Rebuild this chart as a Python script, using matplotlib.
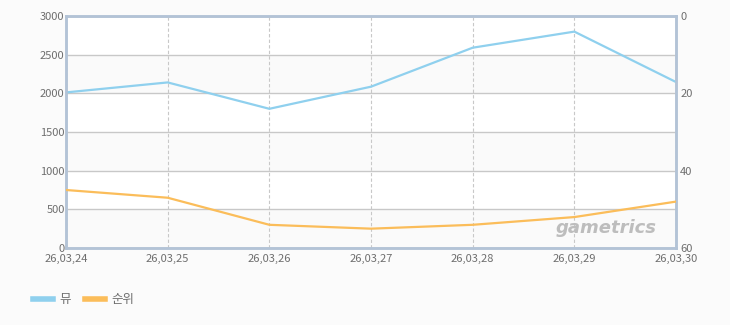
import matplotlib
matplotlib.use('Agg')
import matplotlib.pyplot as plt

plt.rcParams['font.family'] = ['Noto Sans CJK KR', 'DejaVu Sans']

dates = ['26,03,24', '26,03,25', '26,03,26', '26,03,27', '26,03,28', '26,03,29', '26,03,30']
usage = [2012, 2141, 1800, 2086, 2590, 2798, 2146]
rank = [45, 47, 54, 55, 54, 52, 48]
labels = ['뮤', '순위']

blue = '#8fd0ee'
orange = '#fbbd5a'
spine_col = '#b3c3d6'
text_col = '#6e6e6e'

fig = plt.figure(figsize=(7.3, 3.25), dpi=100, facecolor='#fbfbfb')
ax = fig.add_axes([66 / 730, 1 - 248 / 325, 610 / 730, 232 / 325])
ax.set_facecolor('white')

x = list(range(len(dates)))

# alternating bands
for i, lo in enumerate(range(0, 3000, 500)):
    if i % 2 == 0:
        ax.axhspan(lo, lo + 500, color='#fafafa', zorder=0, lw=0)

ax.set_xlim(0, len(dates) - 1)
ax.set_ylim(0, 3000)
ax.set_yticks(range(0, 3001, 500))
ax.set_xticks(x)
ax.set_xticklabels(dates)
ax.grid(axis='y', color='#c8c8c8', lw=1, zorder=1)
ax.grid(axis='x', color='#c8c8c8', lw=0.8, ls=(0, (3, 2)), zorder=1)

l1, = ax.plot(x, usage, color=blue, lw=1.6, zorder=3, label=labels[0])

ax2 = ax.twinx()
ax2.set_ylim(60, 0)
ax2.set_yticks([0, 20, 40, 60])
l2, = ax2.plot(x, rank, color=orange, lw=1.6, zorder=3, label=labels[1])

for a in (ax, ax2):
    for s in a.spines.values():
        s.set_color(spine_col)
        s.set_linewidth(1.8)
    a.tick_params(length=0, labelsize=8, colors=text_col)
ax.tick_params(axis='y', pad=1)
ax.tick_params(axis='x', pad=4)
ax2.tick_params(axis='y', pad=3)

# watermark
ax.text(0.968, 0.085, 'gametrics', transform=ax.transAxes, ha='right', va='center',
        fontsize=13, fontweight='bold', style='italic', color='#bdbdbd',
        family='DejaVu Sans', zorder=2)

fig.legend(handles=[l1, l2], labels=labels, loc='center left', ncol=2,
           bbox_to_anchor=(22 / 730, 1 - 300 / 325), frameon=False,
           fontsize=9, labelcolor=text_col, handlelength=1.6,
           handletextpad=0.5, columnspacing=1.1)
for h in fig.legends[0].legend_handles:
    h.set_linewidth(4)

fig.savefig('out.png', dpi=100, facecolor=fig.get_facecolor())
